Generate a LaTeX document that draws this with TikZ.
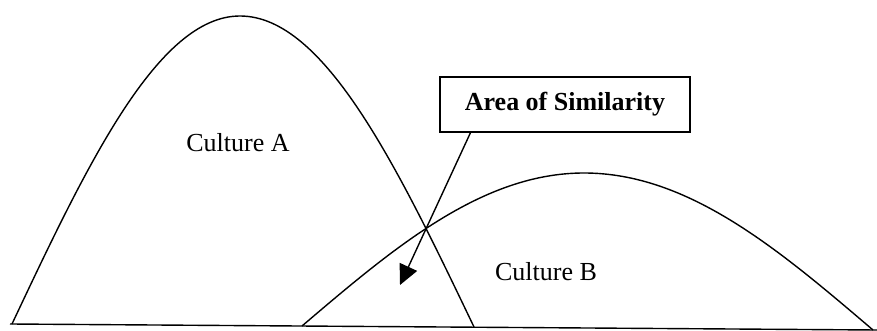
\documentclass[tikz,border=0pt]{standalone}
\usepackage{fontspec}
\setmainfont{Liberation Serif}
\usepackage{tikz}
\usetikzlibrary{arrows.meta, positioning, calc}

\begin{document}
\begin{tikzpicture}[x=0.5pt, y=-0.5pt, line width=0.7pt,
  label/.style={font=\fontsize{13}{15}\selectfont},
  simbox/.style={draw, font=\fontsize{13}{15}\selectfont\bfseries,
    minimum width=125pt, minimum height=27.5pt, inner sep=0pt}]
  \useasboundingbox (0,0) rectangle (877,331);

  % Baseline
  \coordinate (L) at (10,324);
  \coordinate (R) at (877,330);
  \draw (L) -- (R);

  % Culture curves (sine arches)
  \draw (12,324) sin (240,16) cos (474,327);
  \draw (302,326) sin (584,173) cos (873,330);

  % Labels
  \node[label] (cultA) at (238,143) {Culture A};
  \node[label] (cultB) at (546,272) {Culture B};

  % Box and arrow
  \node[simbox] (sim) at (565,104.5) {Area of Similarity};
  \coordinate (tip) at (400,285);
  \draw[-{Triangle[length=10pt,width=9.5pt]}]
    ($(sim.south west)!0.124!(sim.south east)$) -- (tip);
\end{tikzpicture}
\end{document}
